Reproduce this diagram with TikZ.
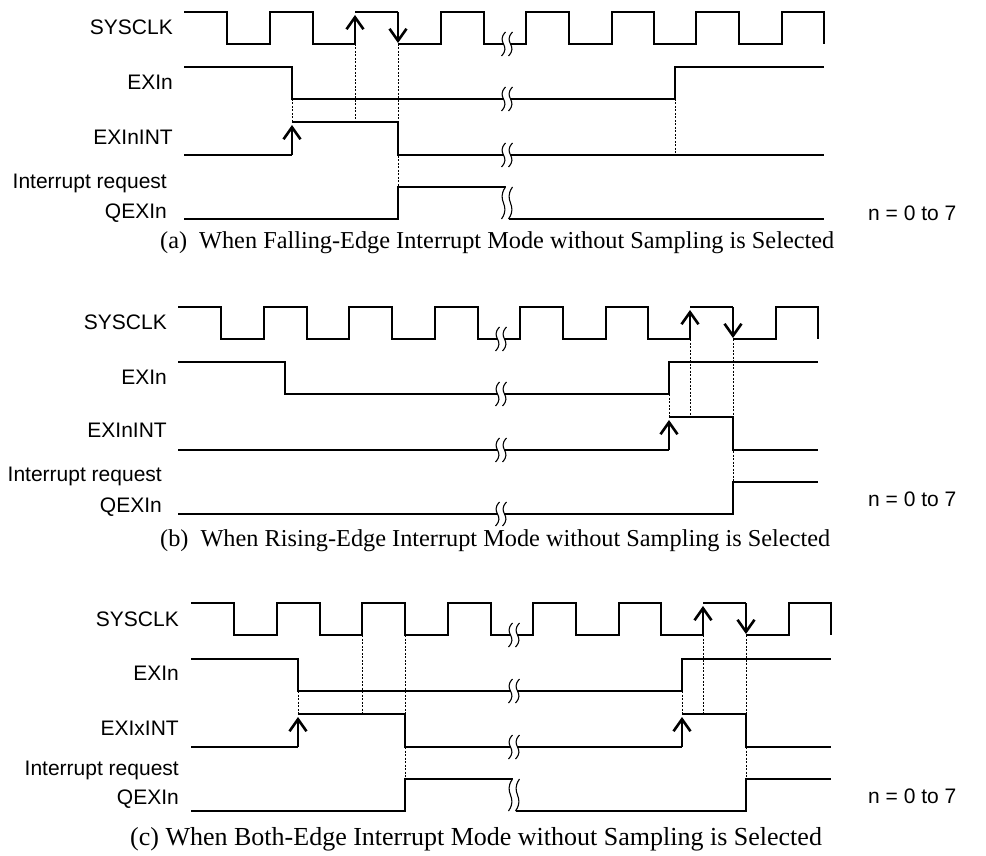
\documentclass[tikz,border=0pt]{standalone}
\usepackage{fontspec}
\setmainfont{Liberation Serif}
\newfontfamily\sigfont{Liberation Sans}
\usepackage{tikz}
\usetikzlibrary{arrows.meta}
\tikzset{
  sig label/.style={
    anchor=east,
    inner sep=0pt,
    font=\sigfont\fontsize{21}{24}\selectfont
  },
  range note/.style={
    sig label,
    anchor=west
  },
  cap text/.style={
    anchor=west,
    inner sep=0pt,
    font=\fontsize{24.3}{26}\selectfont
  },
  wave/.style={
    line width=1.2pt,
    line join=miter
  },
  guide/.style={
    line width=0.8pt,
    dash pattern=on 2pt off 1.5pt
  },
  edge arrow/.style={
    -{Straight Barb[length=12pt,width=17pt,line width=2.6pt]},
    line width=2.6pt
  }
}
% break mark: x, top, bottom
\newcommand{\wavebreak}[3]{%
  \fill[white] (#1-1.5,#2) .. controls (#1-11.5,#2*0.55+#3*0.45) and (#1+4.5,#2*0.45+#3*0.55) .. (#1-5.5,#3)
    -- (#1+1.5,#3) .. controls (#1+11.5,#2*0.45+#3*0.55) and (#1-4.5,#2*0.55+#3*0.45) .. (#1+5.5,#2) -- cycle;
  \draw[line width=1.1pt] (#1-1.5,#2) .. controls (#1-11.5,#2*0.55+#3*0.45) and (#1+4.5,#2*0.45+#3*0.55) .. (#1-5.5,#3);
  \draw[line width=1.1pt] (#1+5.5,#2) .. controls (#1-4.5,#2*0.55+#3*0.45) and (#1+11.5,#2*0.45+#3*0.55) .. (#1+1.5,#3);
}
\begin{document}
\begin{tikzpicture}[x=1pt, y=-1pt]
  \useasboundingbox (0,0) rectangle (986,856);

  % (a) falling edge
  \begin{scope}[shift={(6,0)}]
    \node[sig label] (clk a) at (167,27) {SYSCLK};
    \node[sig label] (exi a) at (167,82) {EXIn};
    \node[sig label] (int a) at (167,137) {EXInINT};
    \node[sig label] (irq a) at (161,183) {Interrupt request};
    \node[sig label] (qex a) at (161,213) {QEXIn};

    \draw[wave] (178,12) -- (221,12) -- (221,44) -- (264,44) -- (264,12) -- (307,12) -- (307,44) -- (349,44)
      (349,12) -- (392,12) (392,44) -- (435,44) -- (435,12) -- (478,12) -- (478,44) -- (520,44) -- (520,12)
      -- (563,12) -- (563,44) -- (606,44) -- (606,12) -- (648,12) -- (648,44) -- (690,44) -- (690,12)
      -- (733,12) -- (733,44) -- (776,44) -- (776,12) -- (818,12) -- (818,44);
    \draw[wave] (178,67) -- (286,67) -- (286,99) -- (669,99) -- (669,67) -- (818,67);
    \draw[wave] (178,155) -- (286,155) (286,122) -- (392,122) -- (392,155) -- (818,155);
    \draw[wave] (178,219) -- (392,219) -- (392,187) -- (499.5,187) (502.5,219) -- (818,219);

    \wavebreak{501}{32}{56}
    \wavebreak{501}{87}{111}
    \wavebreak{501}{143}{167}
    \wavebreak{501}{187}{219}

    \draw[guide] (286,99) -- (286,122);
    \draw[guide] (349,44) -- (349,122);
    \draw[guide] (392,44) -- (392,187);
    \draw[guide] (669,99) -- (669,155);

    \draw[edge arrow] (349,44) -- (349,15);
    \draw[edge arrow] (392,12) -- (392,43);
    \draw[edge arrow] (286,155) -- (286,125);
  \end{scope}

  % (b) rising edge
  \begin{scope}[shift={(0,295)}]
    \node[sig label] (clk b) at (167,27) {SYSCLK};
    \node[sig label] (exi b) at (167,82) {EXIn};
    \node[sig label] (int b) at (167,135) {EXInINT};
    \node[sig label] (irq b) at (162,181) {Interrupt request};
    \node[sig label] (qex b) at (162,212) {QEXIn};

    \draw[wave] (178,12) -- (221,12) -- (221,44) -- (264,44) -- (264,12) -- (307,12) -- (307,44) -- (349,44)
      -- (349,12) -- (392,12) -- (392,44) -- (435,44) -- (435,12) -- (478,12) -- (478,44) -- (520,44) -- (520,12)
      -- (563,12) -- (563,44) -- (606,44) -- (606,12) -- (648,12) -- (648,44) -- (690,44)
      (690,12) -- (733,12) (733,44) -- (776,44) -- (776,12) -- (818,12) -- (818,44);
    \draw[wave] (178,67) -- (285,67) -- (285,99) -- (669,99) -- (669,67) -- (818,67);
    \draw[wave] (178,155) -- (669,155) (669,122) -- (733,122) -- (733,155) -- (818,155);
    \draw[wave] (178,219) -- (733,219) -- (733,187) -- (818,187);

    \wavebreak{501}{32}{56}
    \wavebreak{501}{87}{111}
    \wavebreak{501}{143}{167}
    \wavebreak{501}{207}{231}

    \draw[guide] (669,99) -- (669,122);
    \draw[guide] (690,44) -- (690,122);
    \draw[guide] (733,44) -- (733,187);

    \draw[edge arrow] (690,44) -- (690,15);
    \draw[edge arrow] (733,12) -- (733,43);
    \draw[edge arrow] (669,155) -- (669,125);
  \end{scope}

  % (c) both edges
  \begin{scope}[shift={(13,591)}]
    \node[sig label] (clk c) at (166,28) {SYSCLK};
    \node[sig label] (exi c) at (166,82) {EXIn};
    \node[sig label] (int c) at (166,137) {EXIxINT};
    \node[sig label] (irq c) at (166,179) {Interrupt request};
    \node[sig label] (qex c) at (166,208) {QEXIn};

    \draw[wave] (178,12) -- (221,12) -- (221,44) -- (264,44) -- (264,12) -- (307,12) -- (307,44) -- (349,44)
      -- (349,12) -- (392,12) -- (392,44) -- (435,44) -- (435,12) -- (478,12) -- (478,44) -- (520,44) -- (520,12)
      -- (563,12) -- (563,44) -- (606,44) -- (606,12) -- (648,12) -- (648,44) -- (690,44)
      (690,12) -- (733,12) (733,44) -- (776,44) -- (776,12) -- (818,12) -- (818,44);
    \draw[wave] (178,68) -- (285,68) -- (285,100) -- (669,100) -- (669,68) -- (818,68);
    \draw[wave] (178,156) -- (285,156) (285,123) -- (392,123) -- (392,156) -- (669,156)
      (669,123) -- (733,123) -- (733,156) -- (818,156);
    \draw[wave] (178,220) -- (392,220) -- (392,188) -- (499.5,188) (502.5,220) -- (733,220) -- (733,188) -- (818,188);

    \wavebreak{501}{32}{56}
    \wavebreak{501}{88}{112}
    \wavebreak{501}{144}{168}
    \wavebreak{501}{188}{220}

    \draw[guide] (285,100) -- (285,123);
    \draw[guide] (349,44) -- (349,123);
    \draw[guide] (392,44) -- (392,188);
    \draw[guide] (669,100) -- (669,123);
    \draw[guide] (690,44) -- (690,123);
    \draw[guide] (733,44) -- (733,188);

    \draw[edge arrow] (690,44) -- (690,15);
    \draw[edge arrow] (733,12) -- (733,43);
    \draw[edge arrow] (285,156) -- (285,126);
    \draw[edge arrow] (669,156) -- (669,126);
  \end{scope}

  % n range and captions
  \node[range note] (nrange a) at (868,213) {n = 0 to 7};
  \node[range note] (nrange b) at (868,499) {n = 0 to 7};
  \node[range note] (nrange c) at (868,796) {n = 0 to 7};

  \node[cap text] (cap a) at (160,243) {(a)\hspace{12pt}When Falling-Edge Interrupt Mode without Sampling is Selected};
  \node[cap text] (cap b) at (160,541) {(b)\hspace{12pt}When Rising-Edge Interrupt Mode without Sampling is Selected};
  \node[cap text, font=\fontsize{26}{28}\selectfont] (cap c) at (130,839) {(c) When Both-Edge Interrupt Mode without Sampling is Selected};
\end{tikzpicture}
\end{document}
